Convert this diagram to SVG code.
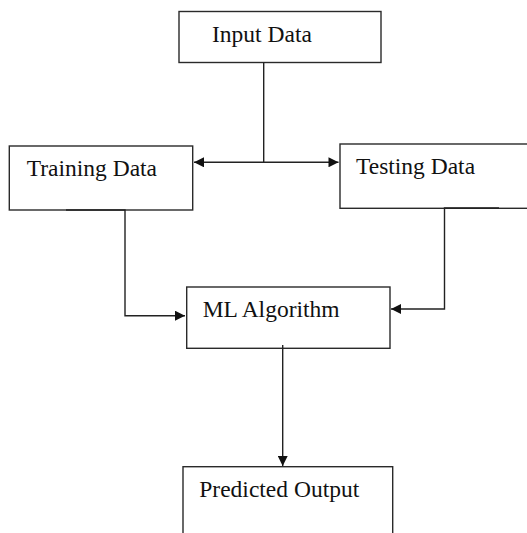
<svg xmlns="http://www.w3.org/2000/svg" width="527" height="533" viewBox="0 0 527 533">
  <style>
    .box { fill: #ffffff; stroke: #2a2a2a; stroke-width: 1.4; }
    .label { font-family: "Liberation Serif", "Times New Roman", serif; font-size: 23.5px; fill: #111111; }
    .wire { fill: none; stroke: #222222; stroke-width: 1.4; }
  </style>
  <defs>
    <marker id="arrow" viewBox="0 0 10 10" refX="10" refY="5" markerWidth="11" markerHeight="10" markerUnits="userSpaceOnUse" orient="auto-start-reverse">
      <path d="M0,0 L10,5 L0,10 Z" fill="#111111"/>
    </marker>
  </defs>

  <rect width="527" height="533" fill="#ffffff"/>

  <g id="input-data">
    <rect class="box" x="179" y="11.5" width="202" height="51"/>
    <text class="label" x="212" y="42">Input Data</text>
  </g>

  <g id="training-data">
    <rect class="box" x="9.3" y="146" width="183.4" height="64"/>
    <text class="label" x="26.7" y="175.5">Training Data</text>
  </g>

  <g id="testing-data">
    <rect class="box" x="340" y="144" width="200" height="64.3"/>
    <text class="label" x="356" y="174.3">Testing Data</text>
  </g>

  <g id="ml-algorithm">
    <rect class="box" x="186.7" y="287" width="203.3" height="61.3"/>
    <text class="label" x="202.7" y="317.3">ML Algorithm</text>
  </g>

  <g id="predicted-output">
    <rect class="box" x="183" y="466.7" width="209.7" height="80"/>
    <text class="label" x="199.3" y="496.7">Predicted Output</text>
  </g>

  <g id="connectors">
    <!-- split from the input into the two data sets -->
    <path class="wire" d="M263.7,62.5 V162.3"/>
    <path class="wire" d="M194,162.3 H338.5" marker-start="url(#arrow)" marker-end="url(#arrow)"/>
    <!-- training data into the algorithm -->
    <path class="wire" d="M66,210 H125 V315.7 H185" marker-end="url(#arrow)"/>
    <!-- testing data into the algorithm -->
    <path class="wire" d="M499,208 H444.5 V309 H391" marker-end="url(#arrow)"/>
    <!-- algorithm to predicted output -->
    <path class="wire" d="M282.7,345 V466" marker-end="url(#arrow)"/>
  </g>
</svg>
